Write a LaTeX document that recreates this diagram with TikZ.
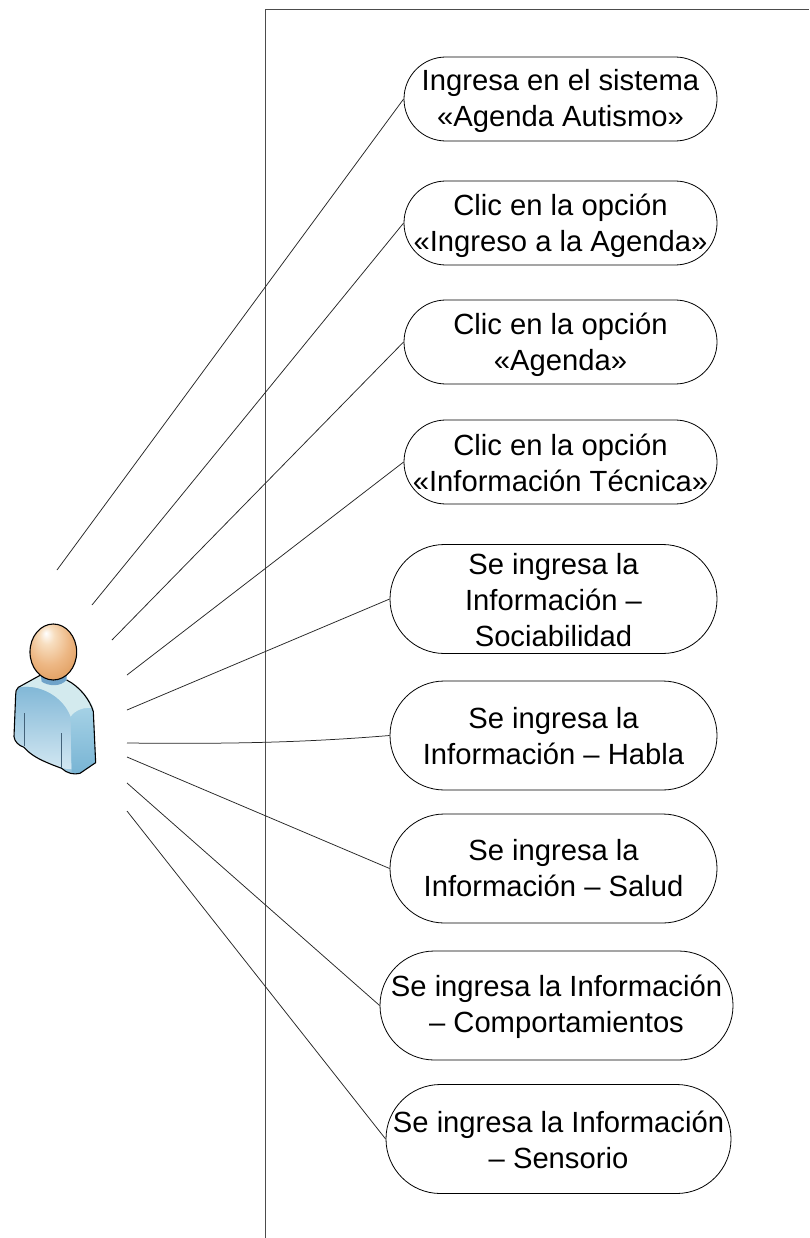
\documentclass[tikz,border=0pt]{standalone}
\usepackage{fontspec}
\setmainfont{Liberation Sans}
\newcommand\firstline[1]{\rule{0pt}{\dimexpr 22pt+2\dimexpr #1pt\relax\relax}}
\newcommand\lastline{\rule[-7pt]{0pt}{0pt}}
\tikzset{
  usecase/.style={draw=black,line width=0.8pt,fill=white,align=center,inner sep=0pt,
    font=\fontsize{29.2}{36}\selectfont},
  small/.style={usecase,minimum height=84pt,rounded corners=41.9pt},
  big/.style={usecase,minimum height=109pt,rounded corners=54.4pt},
  link/.style={draw=black!85,line width=0.75pt},
  frameline/.style={draw=black!70,line width=0.9pt},
  outline/.style={draw=black,line width=1.1pt,line join=round}
}
\definecolor{bodyA}{HTML}{7FB6D6}
\definecolor{bodyB}{HTML}{BFDDEC}
\definecolor{collar}{HTML}{D3EAEE}
\definecolor{side}{HTML}{8FC6DF}
\definecolor{sideB}{HTML}{78B4D4}
\definecolor{neck}{HTML}{6FA3C9}
\pgfdeclareradialshading{headshade}{\pgfpoint{-8bp}{17bp}}{
  rgb(0bp)=(1,1,1);
  rgb(8bp)=(0.97,0.87,0.75);
  rgb(22bp)=(0.93,0.72,0.52);
  rgb(40bp)=(0.86,0.58,0.32);
  rgb(60bp)=(0.82,0.52,0.26)}
\begin{document}
\begin{tikzpicture}[x=1pt,y=-1pt]
\useasboundingbox (0,0) rectangle (809,1238);
\fill[white] (0,0) rectangle (809,1238);
\draw[frameline] (265,1238) -- (265,9) -- (809,9);

\node[small,minimum width=313pt] (u1) at (560.5,99) {\firstline{2.5}Ingresa en el sistema\\«Agenda Autismo»\lastline};
\node[small,minimum width=313pt] (u2) at (560.5,223) {\firstline{3.5}Clic en la opción\\«Ingreso a la Agenda»\lastline};
\node[small,minimum width=313pt] (u3) at (560.5,342) {\firstline{2.5}Clic en la opción\\«Agenda»\lastline};
\node[small,minimum width=313pt] (u4) at (560.5,462) {\firstline{4}Clic en la opción\\«Información Técnica»\lastline};
\node[big,minimum width=327pt] (u5) at (553.5,599) {\firstline{3.5}Se ingresa la\\Información –\\Sociabilidad\lastline};
\node[big,minimum width=327pt] (u6) at (553.5,735.5) {\firstline{3}Se ingresa la\\Información – Habla\lastline};
\node[big,minimum width=327pt] (u7) at (553.5,868.5) {\firstline{2.5}Se ingresa la\\Información – Salud\lastline};
\node[big,minimum width=353pt] (u8) at (556.5,1005.5) {\firstline{1.5}Se ingresa la Información\\– Comportamientos\lastline};
\node[big,minimum width=345pt] (u9) at (558.5,1139) {\firstline{4}Se ingresa la Información\\– Sensorio\lastline};

\coordinate (a1) at (57,570);
\coordinate (a2) at (92,605);
\coordinate (a3) at (112,640);
\coordinate (a4) at (127,675);
\coordinate (a5) at (127,710);
\coordinate (a6) at (127,743);
\coordinate (a7) at (127,757);
\coordinate (a8) at (127,783);
\coordinate (a9) at (127,811);
\draw[link] (a1) -- (u1.west);
\draw[link] (a2) -- (u2.west);
\draw[link] (a3) -- (u3.west);
\draw[link] (a4) -- (u4.west);
\draw[link] (a5) -- (u5.west);
\draw[link] (a6) .. controls (220,744) and (300,743) .. (u6.west);
\draw[link] (a7) -- (u7.west);
\draw[link] (a8) -- (u8.west);
\draw[link] (a9) -- (u9.west);

% actor (coordinates in 3x zoom units, offset 0,600)
\begin{scope}[shift={(0,600)},x=0.3333pt,y=-0.3333pt]
  \path[left color=bodyB,right color=bodyA,middle color=bodyB!60!bodyA]
    (122,225) -- (55,262) .. controls (48,268) and (47,275) .. (47,285)
    -- (42,410) .. controls (44,425) and (55,436) .. (72,442)
    .. controls (90,462) and (110,478) .. (185,505)
    .. controls (200,520) and (222,525) .. (240,520)
    -- (287,488) -- (280,335) .. controls (270,300) and (240,260) .. (200,240) -- cycle;
  \path[top color=bodyA,bottom color=bodyB!70!white]
    (55,262) .. controls (120,250) and (190,290) .. (212,350)
    -- (215,508) -- (185,505) .. controls (110,478) and (90,462) .. (72,442)
    .. controls (55,436) and (44,425) .. (42,410) -- (47,285) -- cycle;
  \path[top color=side!80!white,bottom color=sideB]
    (212,350) .. controls (225,330) and (255,320) .. (280,325)
    -- (287,488) -- (240,520) .. controls (230,522) and (222,520) .. (215,516) -- cycle;
  \path[fill=collar]
    (122,225) -- (55,262) .. controls (120,250) and (190,290) .. (212,350)
    .. controls (225,330) and (255,320) .. (280,325)
    .. controls (270,295) and (240,260) .. (200,240) -- cycle;
  \path[fill=neck] (122,222) -- (125,245) .. controls (145,258) and (180,262) .. (200,240) -- (200,215) -- cycle;
  \draw[outline]
    (122,225) -- (55,262) .. controls (48,268) and (47,275) .. (47,285)
    -- (42,410) .. controls (44,425) and (55,436) .. (72,442)
    .. controls (90,462) and (110,478) .. (185,505)
    .. controls (200,520) and (222,525) .. (240,520)
    -- (287,488) -- (280,335) .. controls (270,300) and (240,260) .. (200,240);
  \draw[draw=neck!60!black,line width=0.7pt] (73,340) -- (73,438);
  \draw[draw=neck!60!black,line width=0.7pt] (184,400) -- (184,503);
  \path[shading=headshade] (160,156) ellipse [x radius=70,y radius=84];
  \draw[outline] (160,156) ellipse [x radius=70,y radius=84];
\end{scope}
\end{tikzpicture}
\end{document}
